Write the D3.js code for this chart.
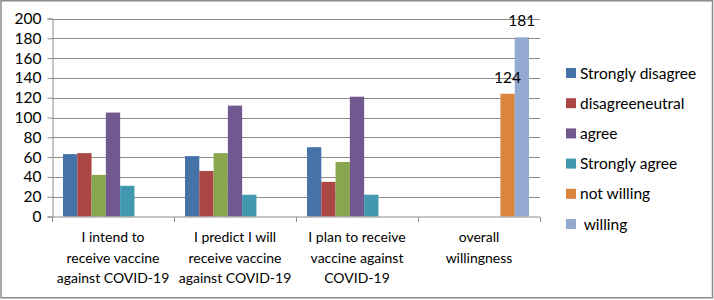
<!DOCTYPE html>
<html>
<head>
<meta charset="utf-8">
<script src="https://cdn.jsdelivr.net/npm/d3@7"></script>
<style>
  body { margin: 0; background: #fff; }
  svg text { font-family: Lato, "Open Sans", sans-serif; fill: #000; }
</style>
</head>
<body>
<div class="chart"></div>
<script>
const WIDTH = 714;
const HEIGHT = 300;

const PLOT_LEFT = 52;
const PLOT_RIGHT = 540;
const PLOT_TOP = 18.5;
const PLOT_BOTTOM = 216.5;

var categories = [
    ["I intend to", "receive vaccine", "against COVID-19"],
    ["I predict I will", "receive vaccine", "against COVID-19"],
    ["I plan to receive", "vaccine against", "COVID-19"],
    ["overall", "willingness"]
];

var seriesNames = ["Strongly disagree", "disagree", "neutral", "agree", "Strongly agree", "not willing", "willing"];
var seriesColors = ["#4572A7", "#AA4643", "#89A54E", "#71588F", "#4198AF", "#DB843D", "#93A9CF"];

// one array per series, one value per category
var stronglyDisagree = [63, 61, 70, 0];
var disagree = [64, 46, 35, 0];
var neutral = [42, 64, 55, 0];
var agree = [105, 112, 121, 0];
var stronglyAgree = [31, 22, 22, 0];
var notWilling = [0, 0, 0, 124];
var willing = [0, 0, 0, 181];

var seriesValues = [stronglyDisagree, disagree, neutral, agree, stronglyAgree, notWilling, willing];

var yTicks = [0, 20, 40, 60, 80, 100, 120, 140, 160, 180, 200];

// legend as shown in the chart (green series has no entry)
var legendLabels = ["Strongly disagree", "disagreeneutral", "agree", "Strongly agree", "not willing", " willing"];
var legendSeries = [0, 1, 3, 4, 5, 6];

// data labels shown only on the last category
var labelled = [{s: 5, c: 3}, {s: 6, c: 3}];

var translate = function (x, y) {
    return "translate(" + x + "," + y + ")";
};

var svg = d3.select('.chart').append('svg')
    .attr('width', WIDTH)
    .attr('height', HEIGHT);

svg.append('rect')
    .attr('x', 1).attr('y', 0.75)
    .attr('width', 711.5).attr('height', 297)
    .attr('fill', '#fff')
    .attr('stroke', '#8c8c8c')
    .attr('stroke-width', 1.5);

var x0 = d3.scaleBand()
    .domain(d3.range(categories.length))
    .range([PLOT_LEFT, PLOT_RIGHT]);

var x1 = d3.scaleBand()
    .domain(d3.range(seriesNames.length))
    .range([0, x0.bandwidth()])
    .paddingOuter(0.77);

var y = d3.scaleLinear()
    .domain([0, 200])
    .range([PLOT_BOTTOM, PLOT_TOP]);

// gridlines
svg.append('g')
    .selectAll('line')
    .data(yTicks.slice(1))
    .enter().append('line')
    .attr('x1', PLOT_LEFT).attr('x2', PLOT_RIGHT)
    .attr('y1', function (d) { return Math.round(y(d)) + 0.5; })
    .attr('y2', function (d) { return Math.round(y(d)) + 0.5; })
    .attr('stroke', '#8c8c8c');

// y axis
var yAxis = d3.axisLeft(y).tickValues(yTicks).tickSize(5).tickPadding(6);
var gy = svg.append('g')
    .attr('transform', translate(PLOT_LEFT + 0.5, 0))
    .call(yAxis);
gy.select('.domain').attr('stroke', '#8c8c8c');
gy.selectAll('.tick line').attr('stroke', '#8c8c8c');
gy.selectAll('.tick text').style('font-size', '15.5px');

// bars
var rows = [];
seriesValues.forEach(function (vals, s) {
    vals.forEach(function (v, c) {
        rows.push({s: s, c: c, v: v});
    });
});

svg.append('g')
    .selectAll('rect')
    .data(rows.filter(function (d) { return d.v > 0; }))
    .enter().append('rect')
    .attr('x', function (d) { return x0(d.c) + x1(d.s); })
    .attr('y', function (d) { return y(d.v); })
    .attr('width', x1.bandwidth())
    .attr('height', function (d) { return y(0) - y(d.v); })
    .attr('fill', function (d) { return seriesColors[d.s]; });

// data labels
svg.append('g')
    .selectAll('text')
    .data(labelled)
    .enter().append('text')
    .attr('x', function (d) { return x0(d.c) + x1(d.s) + x1.bandwidth() / 2; })
    .attr('y', function (d) { return y(seriesValues[d.s][d.c]) - 11; })
    .attr('text-anchor', 'middle')
    .style('font-size', '15.5px')
    .text(function (d) { return seriesValues[d.s][d.c]; });

// x axis
var gx = svg.append('g')
    .attr('transform', translate(0, PLOT_BOTTOM + 0.5));
gx.append('line')
    .attr('x1', PLOT_LEFT).attr('x2', PLOT_RIGHT)
    .attr('stroke', '#8c8c8c');
gx.selectAll('.sep')
    .data(d3.range(categories.length + 1))
    .enter().append('line')
    .attr('x1', function (i) { return Math.round(PLOT_LEFT + i * x0.bandwidth()) + 0.5; })
    .attr('x2', function (i) { return Math.round(PLOT_LEFT + i * x0.bandwidth()) + 0.5; })
    .attr('y1', 0).attr('y2', 5)
    .attr('stroke', '#8c8c8c');

var catLabels = gx.selectAll('.cat')
    .data(categories)
    .enter().append('text')
    .attr('text-anchor', 'middle')
    .attr('transform', function (d, i) { return translate(x0(i) + x0.bandwidth() / 2, 0); })
    .style('font-size', '14px');

catLabels.selectAll('tspan')
    .data(function (d) { return d; })
    .enter().append('tspan')
    .attr('x', 0)
    .attr('y', function (d, i) { return 25 + i * 20.5; })
    .text(function (d) { return d; });

// legend
var legend = svg.append('g')
    .selectAll('g')
    .data(legendLabels)
    .enter().append('g')
    .attr('transform', function (d, i) { return translate(566, 73 + i * 30.2); });

legend.append('rect')
    .attr('x', 0).attr('y', -5)
    .attr('width', 10).attr('height', 10)
    .attr('fill', function (d, i) { return seriesColors[legendSeries[i]]; });

legend.append('text')
    .attr('x', 14).attr('y', 5.5)
    .style('font-size', '15.5px')
    .style('white-space', 'pre')
    .text(function (d) { return d; });
</script>
</body>
</html>
